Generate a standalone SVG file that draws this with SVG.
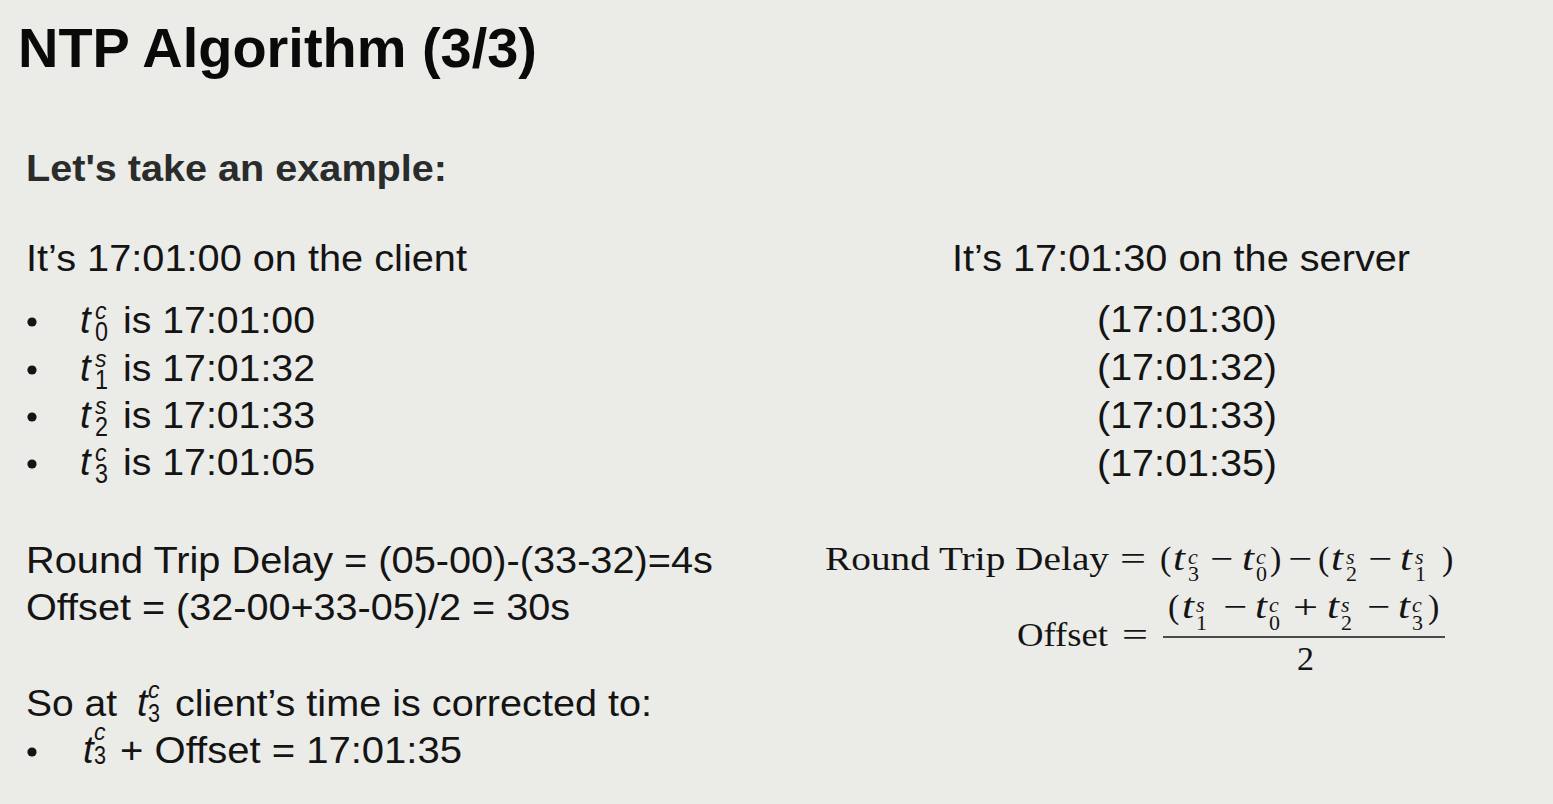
<svg xmlns="http://www.w3.org/2000/svg" width="1553" height="804" viewBox="0 0 1553 804">
<style>
.s{font-family:"Liberation Sans",Arial,sans-serif;fill:#141414;font-size:37px}
.b{font-weight:bold}
.i{font-style:italic}
.sup{font-family:"Liberation Sans",Arial,sans-serif;font-style:italic;fill:#141414;font-size:23px}
.sub{font-family:"Liberation Sans",Arial,sans-serif;fill:#141414;font-size:27px}
.m{font-family:"Liberation Serif","Times New Roman",serif;fill:#141414;font-size:34px}
.mi{font-family:"Liberation Serif","Times New Roman",serif;font-style:italic;fill:#141414;font-size:35px}
.ms{font-family:"Liberation Serif","Times New Roman",serif;font-style:italic;fill:#141414;font-size:22px}
.md{font-family:"Liberation Serif","Times New Roman",serif;fill:#141414;font-size:22px}
.dot{fill:#141414}
</style>
<rect width="1553" height="804" fill="#ebebe8"/>

<g id="title">
<text class="s b" x="18" y="67" style="font-size:55.5px;fill:#0a0a0a" textLength="519" lengthAdjust="spacingAndGlyphs">NTP Algorithm (3/3)</text>
<text class="s b" x="26" y="181" style="font-size:36.5px;fill:#2a2c2c" textLength="421" lengthAdjust="spacingAndGlyphs">Let's take an example:</text>
</g>

<g id="client">
<text class="s" x="26" y="271" textLength="441" lengthAdjust="spacingAndGlyphs">It’s 17:01:00 on the client</text>
<circle class="dot" cx="32" cy="322" r="4.6"/>
<text class="s i" x="80" y="333" style="font-size:38px">t</text>
<text class="sup" x="95" y="319">c</text>
<text class="sub" x="95" y="341" textLength="13" lengthAdjust="spacingAndGlyphs">0</text>
<text class="s" x="123" y="333" textLength="192" lengthAdjust="spacingAndGlyphs">is 17:01:00</text>
<circle class="dot" cx="32" cy="370" r="4.6"/>
<text class="s i" x="80" y="381" style="font-size:38px">t</text>
<text class="sup" x="95" y="367">s</text>
<text class="sub" x="95" y="389" textLength="13" lengthAdjust="spacingAndGlyphs">1</text>
<text class="s" x="123" y="381" textLength="192" lengthAdjust="spacingAndGlyphs">is 17:01:32</text>
<circle class="dot" cx="32" cy="417" r="4.6"/>
<text class="s i" x="80" y="428" style="font-size:38px">t</text>
<text class="sup" x="95" y="414">s</text>
<text class="sub" x="95" y="436" textLength="13" lengthAdjust="spacingAndGlyphs">2</text>
<text class="s" x="123" y="428" textLength="192" lengthAdjust="spacingAndGlyphs">is 17:01:33</text>
<circle class="dot" cx="32" cy="464" r="4.6"/>
<text class="s i" x="80" y="475" style="font-size:38px">t</text>
<text class="sup" x="95" y="461">c</text>
<text class="sub" x="95" y="483" textLength="13" lengthAdjust="spacingAndGlyphs">3</text>
<text class="s" x="123" y="475" textLength="192" lengthAdjust="spacingAndGlyphs">is 17:01:05</text>
</g>

<g id="server">
<text class="s" x="952" y="271" textLength="458" lengthAdjust="spacingAndGlyphs">It’s 17:01:30 on the server</text>
<text class="s" x="1097" y="332" textLength="180" lengthAdjust="spacingAndGlyphs">(17:01:30)</text>
<text class="s" x="1097" y="380" textLength="180" lengthAdjust="spacingAndGlyphs">(17:01:32)</text>
<text class="s" x="1097" y="428" textLength="180" lengthAdjust="spacingAndGlyphs">(17:01:33)</text>
<text class="s" x="1097" y="476" textLength="180" lengthAdjust="spacingAndGlyphs">(17:01:35)</text>
</g>

<g id="calc">
<text class="s" x="26" y="573" textLength="687" lengthAdjust="spacingAndGlyphs">Round Trip Delay = (05-00)-(33-32)=4s</text>
<text class="s" x="26" y="620" textLength="544" lengthAdjust="spacingAndGlyphs">Offset = (32-00+33-05)/2 = 30s</text>
</g>

<g id="correction">
<text class="s" x="26" y="716" textLength="91" lengthAdjust="spacingAndGlyphs">So at</text>
<text class="s i" x="137" y="716" style="font-size:38px">t</text>
<text class="sup" x="148" y="698">c</text>
<text class="sub" x="148" y="722" style="font-size:25px" textLength="12" lengthAdjust="spacingAndGlyphs">3</text>
<text class="s" x="175" y="716" textLength="477" lengthAdjust="spacingAndGlyphs">client’s time is corrected to:</text>
<circle class="dot" cx="32" cy="752" r="4.6"/>
<text class="s i" x="83" y="763" style="font-size:38px">t</text>
<text class="sup" x="94" y="740">c</text>
<text class="sub" x="94" y="764" style="font-size:25px" textLength="12" lengthAdjust="spacingAndGlyphs">3</text>
<text class="s" x="120" y="763" textLength="342" lengthAdjust="spacingAndGlyphs">+ Offset = 17:01:35</text>
</g>

<g id="formulas">
<text class="m" x="825" y="570" textLength="284" lengthAdjust="spacingAndGlyphs">Round Trip Delay</text>
<text class="m" x="1120" y="570" textLength="26" lengthAdjust="spacingAndGlyphs">=</text>
<text class="m" x="1160" y="570">(</text>
<text class="mi" x="1173" y="570" textLength="12" lengthAdjust="spacingAndGlyphs">t</text>
<text class="ms" x="1188" y="564">c</text>
<text class="md" x="1188" y="581">3</text>
<text class="m" x="1210" y="570" textLength="23" lengthAdjust="spacingAndGlyphs">−</text>
<text class="mi" x="1242" y="570" textLength="12" lengthAdjust="spacingAndGlyphs">t</text>
<text class="ms" x="1256" y="564">c</text>
<text class="md" x="1256" y="581">0</text>
<text class="m" x="1270" y="570">)</text>
<text class="m" x="1288" y="570" textLength="24" lengthAdjust="spacingAndGlyphs">−</text>
<text class="m" x="1318" y="570">(</text>
<text class="mi" x="1331" y="570" textLength="12" lengthAdjust="spacingAndGlyphs">t</text>
<text class="ms" x="1346" y="564">s</text>
<text class="md" x="1346" y="581">2</text>
<text class="m" x="1368" y="570" textLength="24" lengthAdjust="spacingAndGlyphs">−</text>
<text class="mi" x="1400" y="570" textLength="12" lengthAdjust="spacingAndGlyphs">t</text>
<text class="ms" x="1415" y="564">s</text>
<text class="md" x="1415" y="581">1</text>
<text class="m" x="1442" y="570">)</text>

<text class="m" x="1017" y="646" textLength="91" lengthAdjust="spacingAndGlyphs">Offset</text>
<text class="m" x="1122" y="646" textLength="26" lengthAdjust="spacingAndGlyphs">=</text>
<text class="m" x="1168" y="618">(</text>
<text class="mi" x="1182" y="618" textLength="12" lengthAdjust="spacingAndGlyphs">t</text>
<text class="ms" x="1196" y="612">s</text>
<text class="md" x="1196" y="630">1</text>
<text class="m" x="1223" y="618" textLength="24" lengthAdjust="spacingAndGlyphs">−</text>
<text class="mi" x="1255" y="618" textLength="12" lengthAdjust="spacingAndGlyphs">t</text>
<text class="ms" x="1269" y="612">c</text>
<text class="md" x="1269" y="630">0</text>
<text class="m" x="1293" y="618" textLength="25" lengthAdjust="spacingAndGlyphs">+</text>
<text class="mi" x="1327" y="618" textLength="12" lengthAdjust="spacingAndGlyphs">t</text>
<text class="ms" x="1341" y="612">s</text>
<text class="md" x="1341" y="630">2</text>
<text class="m" x="1367" y="618" textLength="23" lengthAdjust="spacingAndGlyphs">−</text>
<text class="mi" x="1398" y="618" textLength="12" lengthAdjust="spacingAndGlyphs">t</text>
<text class="ms" x="1412" y="612">c</text>
<text class="md" x="1412" y="630">3</text>
<text class="m" x="1428" y="618">)</text>
<line x1="1163" y1="637" x2="1445" y2="637" stroke="#141414" stroke-width="1.6"/>
<text class="m" x="1297" y="670">2</text>
</g>
</svg>
